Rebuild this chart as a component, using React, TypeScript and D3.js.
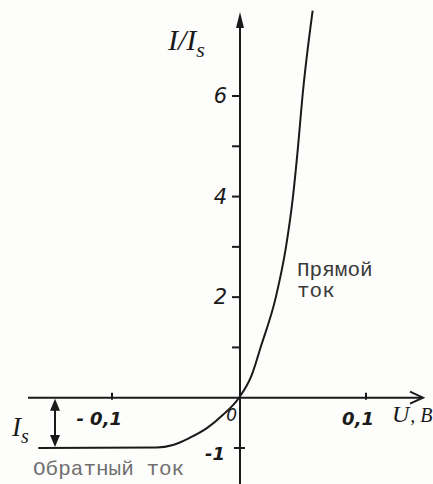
import { useEffect, useRef } from 'react';
import * as d3 from 'd3';

const curveV = [-0.158, -0.065, -0.052, -0.039, -0.025, -0.0126, 0, 0.01, 0.017, 0.029, 0.037, 0.0425, 0.0465, 0.05, 0.058];
const curveI = [-1, -0.99, -0.94, -0.8, -0.6, -0.34, 0, 0.45, 1, 2, 3, 4, 5, 6, 7.7];

const yTicks = [-1, 1, 2, 3, 4, 5, 6];
const yTickLabels = [
  { v: 6, text: '6' },
  { v: 4, text: '4' },
  { v: 2, text: '2' },
  { v: -1, text: '-1' },
];
const xTicks = [-0.1, 0.1];
const xTickLabels = ['- 0,1', '0,1'];

const App = () => {
  const svgRef = useRef<SVGSVGElement>(null);

  useEffect(() => {
    const width = 433;
    const height = 484;
    const ink = '#1a1a1a';

    const svg = d3.select(svgRef.current);
    svg.selectAll('*').remove();
    svg.attr('width', width).attr('height', height);

    svg.append('rect').attr('width', width).attr('height', height).attr('fill', '#fdfdfb');

    const x = d3.scaleLinear().domain([-0.1, 0.1]).range([112, 366]);
    const y = d3.scaleLinear().domain([-1, 6]).range([448, 96]);

    const x0 = x(0);
    const y0 = y(0);

    // axes
    svg.append('line')
      .attr('x1', 28).attr('x2', 421)
      .attr('y1', y0).attr('y2', y0)
      .attr('stroke', ink).attr('stroke-width', 2);
    svg.append('path')
      .attr('d', `M${410},${y0 - 6} L${423},${y0} L${410},${y0 + 6}`)
      .attr('fill', 'none').attr('stroke', ink).attr('stroke-width', 2);

    svg.append('line')
      .attr('x1', x0 + 1).attr('x2', x0 + 1)
      .attr('y1', 22).attr('y2', height)
      .attr('stroke', ink).attr('stroke-width', 2);
    svg.append('path')
      .attr('d', `M${x0 + 1},${12} L${x0 - 3},${28} L${x0 + 5},${28} Z`)
      .attr('fill', ink);

    // y ticks
    svg.append('g').selectAll('line')
      .data(yTicks)
      .enter()
      .append('line')
      .attr('x1', d => (d < 0 ? x0 - 5 : x0 - 7))
      .attr('x2', d => (d < 0 ? x0 + 6 : x0))
      .attr('y1', d => y(d)).attr('y2', d => y(d))
      .attr('stroke', ink).attr('stroke-width', 2);

    svg.append('g').selectAll('text')
      .data(yTickLabels)
      .enter()
      .append('text')
      .attr('x', d => (d.v < 0 ? x0 - 14 : x0 - 12))
      .attr('y', d => y(d.v) + (d.v < 0 ? 12 : 7))
      .attr('text-anchor', 'end')
      .attr('font-family', '"DejaVu Sans", sans-serif')
      .attr('font-style', 'italic')
      .attr('font-weight', d => (d.v < 0 ? 'bold' : 'normal'))
      .attr('font-size', d => (d.v < 0 ? 18 : 21))
      .attr('fill', ink)
      .text(d => d.text);

    // x ticks
    svg.append('g').selectAll('line')
      .data(xTicks)
      .enter()
      .append('line')
      .attr('x1', d => x(d)).attr('x2', d => x(d))
      .attr('y1', y0 - 5).attr('y2', y0 + 2)
      .attr('stroke', ink).attr('stroke-width', 2);

    svg.append('g').selectAll('text')
      .data(xTicks)
      .enter()
      .append('text')
      .attr('x', d => x(d) + (d < 0 ? 10 : 8))
      .attr('y', y0 + 27)
      .attr('text-anchor', 'end')
      .attr('font-family', '"DejaVu Sans", sans-serif')
      .attr('font-style', 'italic')
      .attr('font-weight', 'bold')
      .attr('font-size', 18)
      .attr('fill', ink)
      .text((d, i) => xTickLabels[i]);

    svg.append('text')
      .attr('x', x0 - 2).attr('y', y0 + 23)
      .attr('text-anchor', 'end')
      .attr('font-family', '"DejaVu Sans", sans-serif')
      .attr('font-style', 'italic')
      .attr('font-size', 17)
      .attr('fill', ink)
      .text('0');

    // axis labels
    const uLabel = svg.append('text')
      .attr('x', 392).attr('y', y0 + 24)
      .attr('font-family', '"Liberation Serif", serif')
      .attr('font-style', 'italic')
      .attr('font-size', 24)
      .attr('fill', ink);
    uLabel.append('tspan').text('U');
    uLabel.append('tspan').attr('font-size', 20).attr('dx', 1).text(', B');

    const iLabel = svg.append('text')
      .attr('x', 168).attr('y', 50)
      .attr('font-family', '"Liberation Serif", serif')
      .attr('font-style', 'italic')
      .attr('font-size', 30)
      .attr('fill', ink);
    iLabel.append('tspan').text('I/I');
    iLabel.append('tspan').attr('font-size', 22).attr('dy', 7).text('s');

    const isLabel = svg.append('text')
      .attr('x', 12).attr('y', 436)
      .attr('font-family', '"Liberation Serif", serif')
      .attr('font-style', 'italic')
      .attr('font-size', 27)
      .attr('fill', ink);
    isLabel.append('tspan').text('I');
    isLabel.append('tspan').attr('font-size', 20).attr('dy', 7).text('s');

    // Is double arrow
    const ax = 55;
    svg.append('line')
      .attr('x1', ax).attr('x2', ax)
      .attr('y1', y0 + 4).attr('y2', y(-1) - 4)
      .attr('stroke', ink).attr('stroke-width', 2);
    svg.append('path')
      .attr('d', `M${ax},${y0 + 1} L${ax - 5},${y0 + 13} L${ax + 5},${y0 + 13} Z M${ax},${y(-1) - 1} L${ax - 5},${y(-1) - 13} L${ax + 5},${y(-1) - 13} Z`)
      .attr('fill', ink);

    // curve
    const pts = curveV.map((v, i) => [v, curveI[i]] as [number, number]);
    const line = d3.line<[number, number]>()
      .x(d => x(d[0]))
      .y(d => y(d[1]))
      .curve(d3.curveMonotoneX);
    svg.append('path')
      .attr('d', line(pts))
      .attr('fill', 'none')
      .attr('stroke', ink)
      .attr('stroke-width', 2);

    // annotations
    const mono = '"Liberation Mono", "DejaVu Sans Mono", monospace';
    svg.append('text')
      .attr('x', 297).attr('y', 276)
      .attr('font-family', mono).attr('font-size', 21).attr('fill', '#3a3a3a')
      .text('Прямой');
    svg.append('text')
      .attr('x', 297).attr('y', 297)
      .attr('font-family', mono).attr('font-size', 21).attr('fill', '#3a3a3a')
      .text('ток');
    svg.append('text')
      .attr('x', 33).attr('y', 475)
      .attr('font-family', mono).attr('font-size', 21).attr('fill', '#707070')
      .text('Обратный ток');
  }, []);

  return <svg ref={svgRef} style={{ position: 'absolute', left: 0, top: 0 }}></svg>;
};

export default App;
